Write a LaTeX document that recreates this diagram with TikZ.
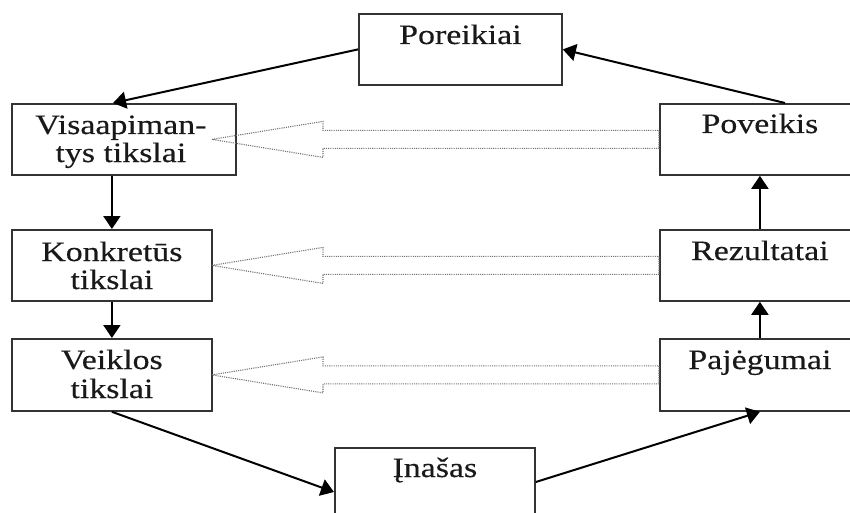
\documentclass[tikz,border=0pt]{standalone}
\usepackage{fontspec}
\setmainfont{Liberation Serif}[FakeStretch=1.21,FakeBold=0.35]
\usetikzlibrary{arrows.meta,calc}
\begin{document}
\begin{tikzpicture}[x=1pt,y=-1pt,
  box/.style={draw=black!80, line width=1.8pt, inner sep=0pt, anchor=north west, minimum width=200pt, minimum height=71pt},
  lbl/.style={anchor=base, inner sep=0pt, font=\fontsize{28}{28}\selectfont, text=black!90},
  conn/.style={draw=black, line width=2pt, -{Triangle[length=13pt,width=17pt]}},
  hollow/.style={draw=black!55, line width=1.1pt, dash pattern=on 1.1pt off 1.1pt}]
\useasboundingbox (0,0) rectangle (850,513);
% boxes
\node[box, minimum width=203pt] (por) at (358,13) {};
\node[box, minimum width=224pt] (visa) at (11,103) {};
\node[box] (konk) at (11,229) {};
\node[box, minimum height=72pt] (veik) at (11,338) {};
\node[box, minimum height=72pt] (ina) at (334,447) {};
\node[box] (pov) at (659,103) {};
\node[box] (rez) at (659,229) {};
\node[box, minimum height=72pt] (paj) at (659,338) {};
% labels
\node[lbl] (porT) at ($(por.north)+(0,31)$) {Poreikiai};
\node[lbl] (visaT1) at ($(visa.north)+(-3,31)$) {Visaapiman-};
\node[lbl] (visaT2) at ($(visa.north)+(-3,59)$) {tys tikslai};
\node[lbl] (konkT1) at ($(konk.north)+(0,32)$) {Konkretūs};
\node[lbl] (konkT2) at ($(konk.north)+(0,60)$) {tikslai};
\node[lbl] (veikT1) at ($(veik.north)+(0,31)$) {Veiklos};
\node[lbl] (veikT2) at ($(veik.north)+(0,60)$) {tikslai};
\node[lbl] (inaT) at ($(ina.north)+(0,30)$) {Įnašas};
\node[lbl] (povT) at ($(pov.north)+(0,30)$) {Poveikis};
\node[lbl] (rezT) at ($(rez.north)+(0,31)$) {Rezultatai};
\node[lbl] (pajT) at ($(paj.north)+(0,31)$) {Pajėgumai};
% connectors
\draw[conn] (por.west) -- ($(visa.north west)+(102,0)$);
\draw[conn] (konk.north |- visa.south) -- (konk.north);
\draw[conn] (konk.south) -- (veik.north);
\draw[conn] (veik.south) -- ($(ina.north west)+(0,45)$);
\draw[conn] ($(ina.north east)+(0,35)$) -- (paj.south);
\draw[conn] (paj.north) -- (rez.south);
\draw[conn] (rez.north) -- (pov.south);
\draw[conn] ($(pov.north west)+(126,0)$) -- (por.east);
% hollow dotted arrows
\coordinate (tipx) at (212,0);
\coordinate (rx) at (323,0);
\foreach \s/\t in {pov/visa, rez/konk, paj/veik}{
  \draw[hollow] (\t -| tipx) -- ($(\t -| rx)+(0,-18)$) -- ($(\t -| rx)+(0,-9)$)
    -- ($(\s.west)+(0,-9)$) -- ($(\s.west)+(0,9)$) -- ($(\t -| rx)+(0,9)$)
    -- ($(\t -| rx)+(0,18)$) -- cycle;
}
\end{tikzpicture}
\end{document}
